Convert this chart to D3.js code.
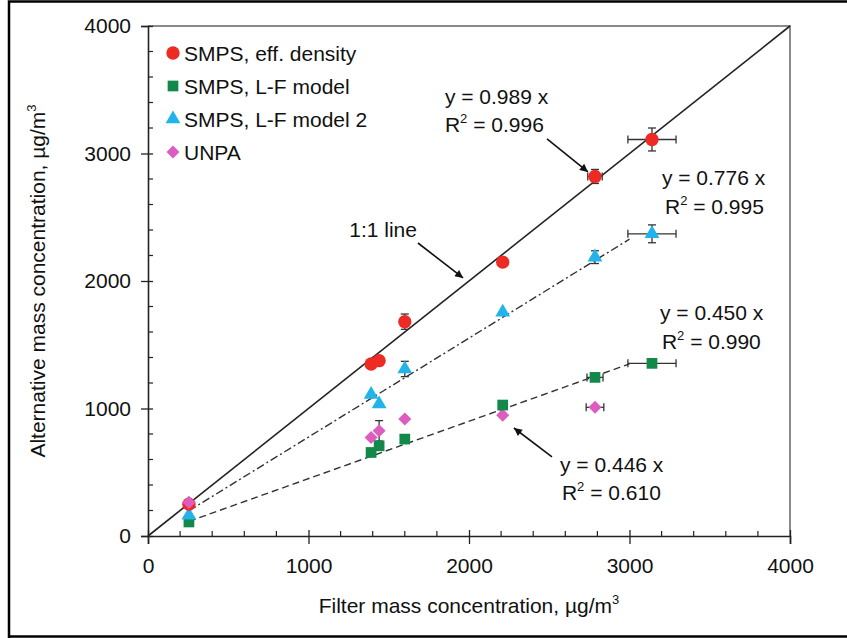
<!DOCTYPE html>
<html><head><meta charset="utf-8">
<script src="https://cdn.jsdelivr.net/npm/d3@7"></script>
<style>
body{margin:0;background:#fff;}
text{font-family:"Liberation Sans",Arial,sans-serif;fill:#111;}
</style>
</head><body>
<svg id="chart" width="847" height="638"></svg>
<script>
// ---- data ----
const seriesNames = ["SMPS, eff. density", "SMPS, L-F model", "SMPS, L-F model 2", "UNPA"];
const filterConc = [255, 1390, 1440, 1600, 2210, 2785, 3140];
const effDensity = [250, 1349, 1375, 1681, 2148, 2820, 3110];
const lfModel    = [110, 655, 707, 760, 1027, 1244, 1354];
const lfModel2   = [163, 1110, 1035, 1310, 1755, 2187, 2370];
const unpa       = [262, 773, 825, 917, 948, 1009, null];
const effDensityErrX = [0, 0, 0, 0, 0, 45, 150];
const effDensityErrY = [0, 0, 0, 60, 0, 55, 90];
const lfModelErrX    = [0, 0, 0, 0, 0, 50, 150];
const lfModelErrY    = [0, 0, 0, 0, 0, 0, 0];
const lfModel2ErrX   = [0, 0, 0, 0, 0, 0, 150];
const lfModel2ErrY   = [0, 0, 0, 60, 0, 50, 70];
const unpaErrX       = [0, 0, 0, 0, 0, 55, 0];
const unpaErrY       = [0, 0, 80, 0, 0, 0, 0];
const fitSlopes = [0.776, 0.450];   // L-F model 2, L-F model
const fitStart = 255, fitEnd = 3000;
const xTicks = [0, 1000, 2000, 3000, 4000];
const yTicks = [0, 1000, 2000, 3000, 4000];
const minorStep = 200;

const seriesValues = [effDensity, lfModel, lfModel2, unpa];
const seriesErrX = [effDensityErrX, lfModelErrX, lfModel2ErrX, unpaErrX];
const seriesErrY = [effDensityErrY, lfModelErrY, lfModel2ErrY, unpaErrY];
const colors = ["#ee2a24", "#12894a", "#22b3ea", "#dd5cbf"];

// ---- layout ----
const svg = d3.select("#chart");
const L = 148, R = 790, T = 26, B = 536;
const x = d3.scaleLinear().domain([0, 4000]).range([L, R]);
const y = d3.scaleLinear().domain([0, 4000]).range([B, T]);
const FS = 21;

// outer frame
svg.append("path").attr("d", `M9,640 V1.5 H850 M9,636.5 H850`)
  .attr("fill", "none").attr("stroke", "#000").attr("stroke-width", 2.5);

// plot frame top/right (grey)
svg.append("path").attr("d", `M${L},${T} H${R} V${B}`)
  .attr("fill", "none").attr("stroke", "#8a8a8a").attr("stroke-width", 2);

// minor ticks
const minors = d3.range(0, 4001, minorStep).filter(v => v % 1000 !== 0);
svg.append("g").selectAll("line").data(minors).join("line")
  .attr("x1", d => x(d)).attr("x2", d => x(d)).attr("y1", B).attr("y2", B - 5)
  .attr("stroke", "#222").attr("stroke-width", 1.2);
svg.append("g").selectAll("line").data(minors).join("line")
  .attr("y1", d => y(d)).attr("y2", d => y(d)).attr("x1", L).attr("x2", L + 5)
  .attr("stroke", "#222").attr("stroke-width", 1.2);

// axes
const xAxis = d3.axisBottom(x).tickValues(xTicks).tickSize(8).tickPadding(14).tickFormat(d3.format("d"));
const gx = svg.append("g").attr("transform", `translate(0,${B})`).call(xAxis);
const yAxis = d3.axisLeft(y).tickValues(yTicks).tickSize(7).tickPadding(10).tickFormat(d3.format("d"));
const gy = svg.append("g").attr("transform", `translate(${L},0)`).call(yAxis);
[gx, gy].forEach(g => {
  g.select(".domain").attr("stroke", "#222").attr("stroke-width", 1.6);
  g.selectAll(".tick line").attr("stroke", "#222").attr("stroke-width", 1.3);
  g.selectAll(".tick text").attr("font-size", FS).attr("fill", "#111")
    .attr("font-family", "Liberation Sans, Arial, sans-serif");
});
gx.selectAll(".tick line").attr("y1", -6);
gy.selectAll(".tick line").attr("x2", 5).attr("x1", -7);

// axis titles
const xt = svg.append("text").attr("x", (L + R) / 2).attr("y", 613).attr("text-anchor", "middle").attr("font-size", FS);
xt.append("tspan").text("Filter mass concentration, µg/m");
xt.append("tspan").text("3").attr("font-size", 13).attr("dy", -9);
const yt = svg.append("text").attr("transform", `translate(45,${(T + B) / 2}) rotate(-90)`)
  .attr("text-anchor", "middle").attr("font-size", FS);
yt.append("tspan").text("Alternative mass concentration, µg/m");
yt.append("tspan").text("3").attr("font-size", 13).attr("dy", -9);

// 1:1 line
svg.append("line").attr("x1", x(0)).attr("y1", y(0)).attr("x2", x(4000)).attr("y2", y(4000))
  .attr("stroke", "#222").attr("stroke-width", 1.6);

// fit lines
const fitDash = ["8,3,2,3", "7,4"];
fitSlopes.forEach((s, i) => {
  svg.append("line").attr("x1", x(fitStart)).attr("y1", y(s * fitStart))
    .attr("x2", x(fitEnd)).attr("y2", y(s * fitEnd))
    .attr("stroke", "#333").attr("stroke-width", 1.4).attr("stroke-dasharray", fitDash[i]);
});

// error bars
const eb = svg.append("g").attr("stroke", "#333").attr("stroke-width", 1.3);
seriesValues.forEach((vals, si) => {
  vals.forEach((v, i) => {
    if (v == null) return;
    const cx = x(filterConc[i]), cy = y(v);
    const ex = seriesErrX[si][i], ey = seriesErrY[si][i];
    if (ex > 0) {
      eb.append("line").attr("x1", x(filterConc[i] - ex)).attr("x2", x(filterConc[i] + ex)).attr("y1", cy).attr("y2", cy);
      [-ex, ex].forEach(e => eb.append("line").attr("x1", x(filterConc[i] + e)).attr("x2", x(filterConc[i] + e)).attr("y1", cy - 4).attr("y2", cy + 4));
    }
    if (ey > 0) {
      eb.append("line").attr("x1", cx).attr("x2", cx).attr("y1", y(v - ey)).attr("y2", y(v + ey));
      [-ey, ey].forEach(e => eb.append("line").attr("x1", cx - 4).attr("x2", cx + 4).attr("y1", y(v + e)).attr("y2", y(v + e)));
    }
  });
});

// markers
const symbols = [
  {type: d3.symbolCircle, size: 140, rot: 0},
  {type: d3.symbolSquare, size: 115, rot: 0},
  {type: d3.symbolTriangle, size: 95, rot: 0},
  {type: d3.symbolSquare, size: 85, rot: 45}
];
function marker(g, si, cx, cy) {
  const s = symbols[si];
  g.append("path").attr("d", d3.symbol().type(s.type).size(s.size)())
    .attr("transform", `translate(${cx},${cy}) rotate(${s.rot})`)
    .attr("fill", colors[si]);
}
const mk = svg.append("g");
[3, 1, 2, 0].forEach(si => {
  seriesValues[si].forEach((v, i) => {
    if (v == null) return;
    marker(mk, si, x(filterConc[i]), y(v));
  });
});
// UNPA first point sits on top (as in reference)
marker(mk, 3, x(filterConc[0]), y(unpa[0]));

// legend
const lg = svg.append("g");
const legY = [53, 86, 119, 152];
seriesNames.forEach((n, i) => {
  marker(lg, i, 173, legY[i]);
  lg.append("text").attr("x", 184).attr("y", legY[i] + 7.5).attr("font-size", FS).text(n);
});

// annotations
svg.append("defs").append("marker").attr("id", "ah").attr("viewBox", "0 0 10 10")
  .attr("refX", 10).attr("refY", 5).attr("markerWidth", 11).attr("markerHeight", 8)
  .attr("markerUnits", "userSpaceOnUse").attr("orient", "auto")
  .append("path").attr("d", "M0,0 L10,5 L0,10 z").attr("fill", "#111");

function label(dx, dy, main, anchor) {
  const t = svg.append("text").attr("x", x(dx)).attr("y", y(dy)).attr("font-size", FS)
    .attr("text-anchor", anchor || "start");
  t.text(main);
  return t;
}
function r2(dx, dy, val) {
  const t = svg.append("text").attr("x", x(dx)).attr("y", y(dy)).attr("font-size", FS);
  t.append("tspan").text("R");
  t.append("tspan").text("2").attr("font-size", 13).attr("dy", -9);
  t.append("tspan").text(" = " + val).attr("dy", 9);
}
function arrow(x1, y1, x2, y2) {
  svg.append("line").attr("x1", x(x1)).attr("y1", y(y1)).attr("x2", x(x2)).attr("y2", y(y2))
    .attr("stroke", "#111").attr("stroke-width", 1.6).attr("marker-end", "url(#ah)");
}
label(1850, 3388, "y = 0.989 x");
r2(1850, 3169, "0.996");
arrow(2486, 3114, 2741, 2855);
label(1676, 2345, "1:1 line", "end");
arrow(1682, 2298, 1963, 2024);
label(3202, 2753, "y = 0.776 x");
r2(3221, 2525, "0.995");
label(3190, 1694, "y = 0.450 x");
r2(3202, 1467, "0.990");
label(2567, 502, "y = 0.446 x");
r2(2579, 282, "0.610");
arrow(2517, 620, 2280, 847);
</script>
</body></html>
